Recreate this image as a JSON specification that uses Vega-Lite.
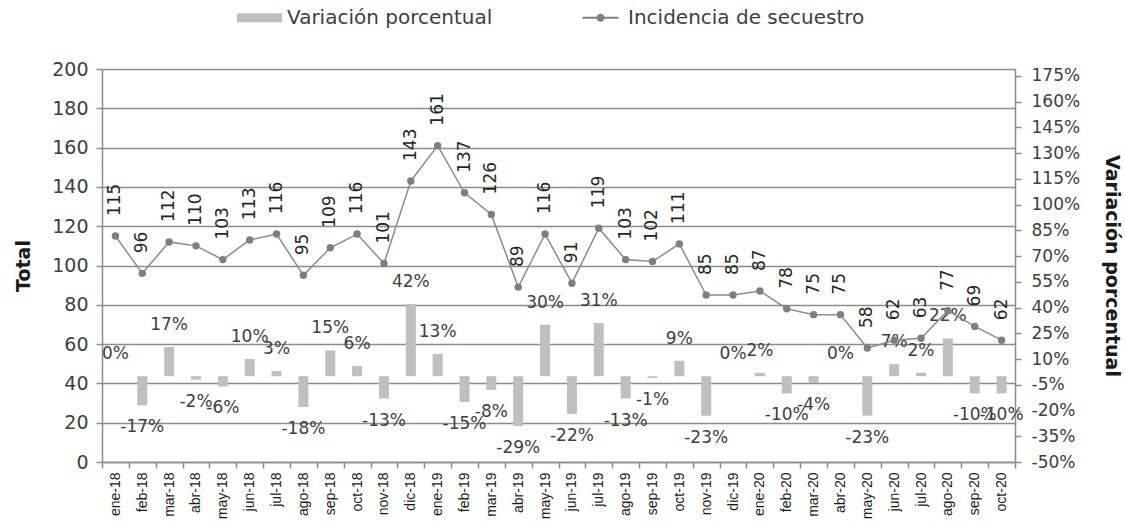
{
  "$schema": "https://vega.github.io/schema/vega-lite/v6.json",
  "width": 913,
  "height": 393,
  "autosize": "none",
  "padding": {"left": 102, "top": 69, "right": 110, "bottom": 69},
  "background": "white",
  "config": {
    "view": {"stroke": null},
    "font": "DejaVu Sans",
    "locale": {"number": {"decimal": ".", "thousands": ",", "grouping": [3], "currency": ["$", ""], "minus": "-", "percent": "%"}},
    "axis": {"labelColor": "#404040", "titleColor": "#1a1a1a", "domainColor": "#8c8c8c", "tickColor": "#8c8c8c", "gridColor": "#8c8c8c", "domainWidth": 1.5, "tickWidth": 1.5, "gridWidth": 1.5, "labelOverlap": false}
  },
  "data": {"values": [
    {"mes": "ene-18", "total": 115, "pct": 0},
    {"mes": "feb-18", "total": 96, "pct": -0.17},
    {"mes": "mar-18", "total": 112, "pct": 0.17},
    {"mes": "abr-18", "total": 110, "pct": -0.02},
    {"mes": "may-18", "total": 103, "pct": -0.06},
    {"mes": "jun-18", "total": 113, "pct": 0.10},
    {"mes": "jul-18", "total": 116, "pct": 0.03},
    {"mes": "ago-18", "total": 95, "pct": -0.18},
    {"mes": "sep-18", "total": 109, "pct": 0.15},
    {"mes": "oct-18", "total": 116, "pct": 0.06},
    {"mes": "nov-18", "total": 101, "pct": -0.13},
    {"mes": "dic-18", "total": 143, "pct": 0.42},
    {"mes": "ene-19", "total": 161, "pct": 0.13},
    {"mes": "feb-19", "total": 137, "pct": -0.15},
    {"mes": "mar-19", "total": 126, "pct": -0.08},
    {"mes": "abr-19", "total": 89, "pct": -0.29},
    {"mes": "may-19", "total": 116, "pct": 0.30},
    {"mes": "jun-19", "total": 91, "pct": -0.22},
    {"mes": "jul-19", "total": 119, "pct": 0.31},
    {"mes": "ago-19", "total": 103, "pct": -0.13},
    {"mes": "sep-19", "total": 102, "pct": -0.01},
    {"mes": "oct-19", "total": 111, "pct": 0.09},
    {"mes": "nov-19", "total": 85, "pct": -0.23},
    {"mes": "dic-19", "total": 85, "pct": 0},
    {"mes": "ene-20", "total": 87, "pct": 0.02},
    {"mes": "feb-20", "total": 78, "pct": -0.10},
    {"mes": "mar-20", "total": 75, "pct": -0.04},
    {"mes": "abr-20", "total": 75, "pct": 0},
    {"mes": "may-20", "total": 58, "pct": -0.23},
    {"mes": "jun-20", "total": 62, "pct": 0.07},
    {"mes": "jul-20", "total": 63, "pct": 0.02},
    {"mes": "ago-20", "total": 77, "pct": 0.22},
    {"mes": "sep-20", "total": 69, "pct": -0.10},
    {"mes": "oct-20", "total": 62, "pct": -0.10}
  ]},
  "encoding": {
    "x": {
      "field": "mes", "type": "ordinal", "sort": null,
      "scale": {"paddingInner": 0, "paddingOuter": 0},
      "axis": {"title": null, "labelAngle": 270, "labelAlign": "right", "labelBaseline": "middle", "labelFont": "Liberation Sans", "labelFontSize": 14, "labelColor": "#1a1a1a", "tickBand": "extent", "tickSize": 6, "labelPadding": 4, "domainColor": "#8c8c8c"}
    }
  },
  "layer": [
    {
      "encoding": {
        "y": {"field": "pct", "type": "quantitative", "scale": {"domain": [-0.5, 1.79], "nice": false, "zero": false},
          "axis": {"orient": "right", "title": "Variación porcentual", "titleFontSize": 19, "titleFontWeight": "bold", "titlePadding": 22, "format": ".0%", "values": [-0.5, -0.35, -0.2, -0.05, 0.1, 0.25, 0.4, 0.55, 0.7, 0.85, 1, 1.15, 1.3, 1.45, 1.6, 1.75], "labelFontSize": 17, "grid": false, "tickSize": 6, "labelPadding": 10, "labelOverlap": false}}
      },
      "layer": [
        {
          "mark": {"type": "bar", "color": "#bfbfbf", "size": 10}
        },
        {
          "transform": [{"filter": "datum.pct >= 0"}],
          "mark": {"type": "text", "dy": -22, "fontSize": 17, "color": "#404040", "baseline": "middle"},
          "encoding": {
            "text": {"field": "pct", "type": "quantitative", "format": ".0%"}
          }
        },
        {
          "transform": [{"filter": "datum.pct < 0"}],
          "mark": {"type": "text", "dy": 22, "fontSize": 17, "color": "#404040", "baseline": "middle"},
          "encoding": {
            "text": {"field": "pct", "type": "quantitative", "format": ".0%"}
          }
        }
      ]
    },
    {
      "encoding": {
        "y": {"field": "total", "type": "quantitative", "scale": {"domain": [0, 200], "nice": false},
          "axis": {"orient": "left", "title": "Total", "titleFontSize": 19, "titleFontWeight": "bold", "titlePadding": 18, "values": [0, 20, 40, 60, 80, 100, 120, 140, 160, 180, 200], "labelFontSize": 19, "grid": true, "tickSize": 6, "labelPadding": 8, "labelOverlap": false}}
      },
      "layer": [
        {
          "mark": {"type": "line", "color": "#8c8c8c", "strokeWidth": 1.5}
        },
        {
          "mark": {"type": "point", "filled": true, "color": "#7f7f7f", "size": 55, "opacity": 1}
        },
        {
          "mark": {"type": "text", "angle": 270, "align": "left", "baseline": "middle", "dx": 20, "fontSize": 17, "color": "#262626"},
          "encoding": {
            "text": {"field": "total", "type": "quantitative"}
          }
        },
        {
          "mark": {"type": "point", "filled": true, "opacity": 0},
          "encoding": {
            "color": {"datum": "Incidencia de secuestro", "scale": {"domain": ["Variación porcentual", "Incidencia de secuestro"], "range": ["#bfbfbf", "#7f7f7f"]},
              "legend": {"title": null, "orient": "none", "direction": "horizontal", "legendX": 135, "legendY": -74, "symbolOpacity": 1, "symbolSize": 2025, "symbolStrokeWidth": 0, "labelFontSize": 20, "labelColor": "#404040", "labelOffset": 5, "labelLimit": 500, "columnPadding": 85, "padding": 0}},
            "shape": {"datum": "Incidencia de secuestro", "scale": {"domain": ["Variación porcentual", "Incidencia de secuestro"], "range": ["M-1,-0.2L1,-0.2L1,0.2L-1,0.2Z", "M-0.8,-0.04L0.8,-0.04L0.8,0.04L-0.8,0.04Z M0.18,0A0.18,0.18,0,1,1,-0.18,0A0.18,0.18,0,1,1,0.18,0Z"]},
              "legend": {"title": null, "orient": "none", "direction": "horizontal", "legendX": 135, "legendY": -74, "symbolOpacity": 1, "symbolSize": 2025, "symbolStrokeWidth": 0, "labelFontSize": 20, "labelColor": "#404040", "labelOffset": 5, "labelLimit": 500, "columnPadding": 85, "padding": 0}}
          }
        }
      ]
    }
  ],
  "resolve": {"scale": {"y": "independent"}}
}
